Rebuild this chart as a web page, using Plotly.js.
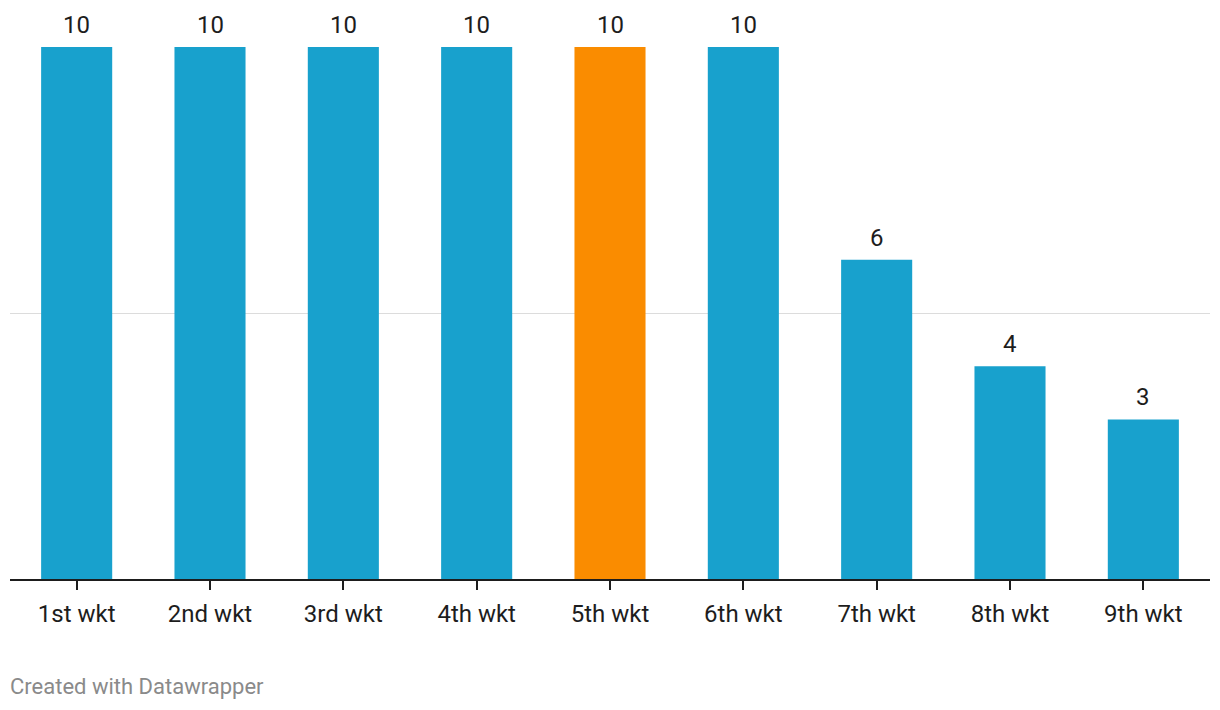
<!DOCTYPE html>
<html>
<head>
<meta charset="utf-8">
<script src="https://cdn.plot.ly/plotly-3.0.1.min.js"></script>
<style>
html,body{margin:0;padding:0;background:#fff;}
#chart{width:1220px;height:710px;}
</style>
</head>
<body>
<div id="chart"></div>
<script>
const categories = ["1st wkt","2nd wkt","3rd wkt","4th wkt","5th wkt","6th wkt","7th wkt","8th wkt","9th wkt"];
const values = [10,10,10,10,10,10,6,4,3];
const highlight = "5th wkt";

const blue = "#18a1cd", orange = "#fa8c00";
const colors = categories.map(c => c === highlight ? orange : blue);

const trace = {
  type: "bar",
  x: categories,
  y: values,
  marker: {color: colors},
  hoverinfo: "none"
};

const annotations = categories.map((c, i) => ({
  x: c, y: values[i], xref: "x", yref: "y",
  text: String(values[i]),
  showarrow: false, yanchor: "bottom", yshift: 6,
  font: {family: "Roboto", size: 24, color: "#1d1d1d"}
}));
annotations.push({
  xref: "paper", yref: "paper", x: 0, y: 0, xanchor: "left", yanchor: "top",
  xshift: -2, yshift: -93,
  text: "Created with Datawrapper", showarrow: false,
  font: {family: "Roboto", size: 22, color: "#8a8a8a"}
});

const layout = {
  width: 1220, height: 710,
  margin: {l: 10, r: 10, t: 47, b: 131},
  paper_bgcolor: "#fff", plot_bgcolor: "#fff",
  bargap: 0.467,
  showlegend: false,
  font: {family: "Roboto", color: "#1d1d1d"},
  xaxis: {
    type: "category",
    showline: true, linecolor: "#1d1d1d", linewidth: 2,
    ticks: "outside", ticklen: 9, tickwidth: 2, tickcolor: "#1d1d1d",
    ticklabelstandoff: 3,
    tickfont: {family: "Roboto", size: 24, color: "#1d1d1d"},
    showgrid: false, fixedrange: true
  },
  yaxis: {
    range: [0, 10], dtick: 5, tick0: 0,
    showticklabels: false, zeroline: false,
    showgrid: true, gridcolor: "#dcdcdc", gridwidth: 1,
    fixedrange: true
  },
  annotations: annotations
};

Plotly.newPlot("chart", [trace], layout, {displayModeBar: false, staticPlot: true});
</script>
</body>
</html>
